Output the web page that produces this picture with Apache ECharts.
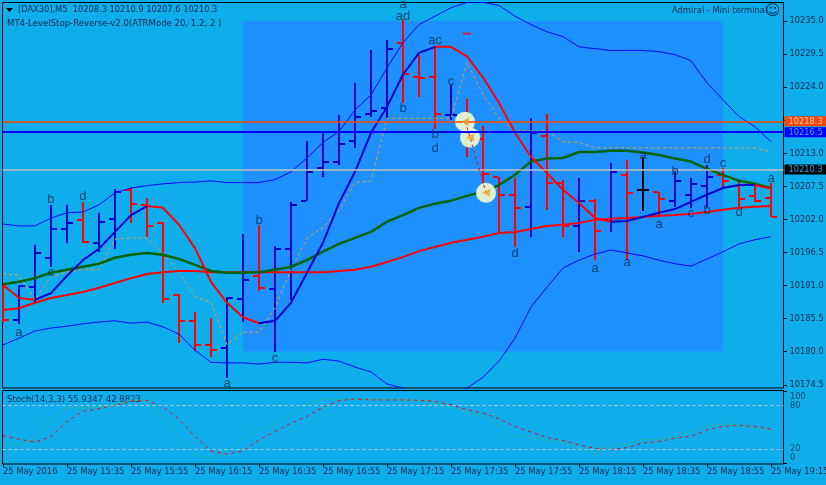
<!DOCTYPE html>
<html>
<head>
<meta charset="utf-8">
<title>DAX30 M5</title>
<style>
  html, body { margin: 0; padding: 0; background: #10aded; overflow: hidden; }
  #chart { width: 826px; height: 485px; }
</style>
<script src="https://cdn.jsdelivr.net/npm/echarts@6/dist/echarts.min.js"></script>
</head>
<body>
<div id="chart"></div>
<script>
const timeLabels = ['25 May 2016', '25 May 15:35', '25 May 15:55', '25 May 16:15', '25 May 16:35', '25 May 16:55', '25 May 17:15', '25 May 17:35', '25 May 17:55', '25 May 18:15', '25 May 18:35', '25 May 18:55', '25 May 19:15']
const timeTicks = [0, 4, 8, 12, 16, 20, 24, 28, 32, 36, 40, 44, 48]
const priceTicks = [10235, 10229.5, 10224, 10218.5, 10213, 10207.5, 10202, 10196.5, 10191, 10185.5, 10180, 10174.5]
const stochTicks = [0, 20, 80, 100]

const opens = [10190.8, 10185.2, 10190.8, 10195.6, 10200.4, 10201.9, 10198.1, 10202.1, 10206.9, 10204.3, 10201.3, 10189.4, 10185.1, 10181.1, 10180.6, 10188.8, 10192.6, 10190.4, 10197.1, 10205.1, 10210.6, 10211.6, 10215.1, 10219.6, 10220.6, 10231.3, 10225.6, 10225.6, 10219.3, 10219.1, 10215.3, 10209.1, 10206.1, 10204.1, 10215.9, 10208.1, 10200.8, 10205.1, 10201.8, 10209.4, 10206.8, 10206.6, 10205.1, 10206.1, 10207.6, 10209.4, 10207.6, 10205.9, 10205.6]
const highs = [10191.1, 10191.1, 10197.8, 10204.4, 10204.3, 10204.8, 10203.1, 10207.1, 10207.3, 10205.6, 10201.6, 10189.6, 10186.6, 10185.6, 10189.1, 10199.6, 10201.1, 10197.6, 10204.9, 10215.1, 10216.4, 10219.3, 10224.6, 10230.1, 10231.8, 10235.1, 10229.4, 10230.8, 10224.4, 10222.1, 10217.6, 10209.1, 10208.8, 10218.8, 10219.6, 10208.6, 10208.8, 10205.3, 10211.3, 10211.8, 10212.3, 10206.6, 10210.3, 10208.8, 10211.1, 10210.6, 10208.6, 10207.8, 10208.1]
const lows = [10184.8, 10184.6, 10188.1, 10194.1, 10198.1, 10198.1, 10196.6, 10197.1, 10201.4, 10199.1, 10188.1, 10181.4, 10180.1, 10179.1, 10175.6, 10184.9, 10190.1, 10179.9, 10188.6, 10205.1, 10209.1, 10211.1, 10213.9, 10219.1, 10218.8, 10221.4, 10222.4, 10217.1, 10218.6, 10212.3, 10205.3, 10199.6, 10197.4, 10199.1, 10203.6, 10199.1, 10196.6, 10195.3, 10199.9, 10195.3, 10203.4, 10202.3, 10204.1, 10203.9, 10204.1, 10207.4, 10204.1, 10204.9, 10202.3]
const closes = [10185.2, 10190.9, 10196.4, 10200.4, 10201.3, 10198.3, 10201.6, 10206.6, 10204.6, 10200.8, 10188.8, 10185.1, 10181.1, 10180.3, 10188.9, 10191.9, 10190.6, 10197.1, 10204.4, 10209.9, 10211.6, 10214.6, 10219.1, 10220.1, 10230.4, 10226.1, 10225.5, 10219.6, 10219.4, 10215.3, 10209.6, 10206.1, 10203.8, 10216.3, 10208.1, 10200.8, 10205.1, 10200.1, 10209.8, 10206.3, 10206.8, 10205.3, 10208.4, 10207.8, 10209.1, 10208.3, 10205.4, 10205.1, 10202.3]

const upperBand = [10201.2, 10200.9, 10200.9, 10202.2, 10203.1, 10203.2, 10204.4, 10206.4, 10207.2, 10207.6, 10207.9, 10208.1, 10208.2, 10208.4, 10208.1, 10208.1, 10208.1, 10208.6, 10209.9, 10212.2, 10214.8, 10216.6, 10220.2, 10222.7, 10227.2, 10231.4, 10234.4, 10235.8, 10237.2, 10238.1, 10238.1, 10237.6, 10235.8, 10234.4, 10233.2, 10232.4, 10230.7, 10230.4, 10230.1, 10230.1, 10230.1, 10229.9, 10229.4, 10228.4, 10224.7, 10221.9, 10219.1, 10217.4, 10214.9]
const lowerBand = [10181.1, 10182.2, 10183.4, 10183.9, 10184.2, 10184.6, 10184.9, 10185.1, 10184.7, 10184.9, 10184.1, 10182.9, 10180.2, 10178.2, 10178.1, 10178.1, 10177.9, 10178.2, 10178.2, 10178.1, 10178.7, 10178.4, 10177.4, 10176.6, 10174.6, 10173.9, 10172.7, 10172.2, 10172.7, 10173.9, 10175.7, 10178.4, 10182.2, 10187.4, 10190.7, 10193.9, 10195.2, 10196.2, 10196.9, 10196.4, 10195.9, 10195.2, 10194.6, 10194.2, 10195.4, 10196.6, 10197.9, 10198.6, 10199.1]
const trendLine = [10191.1, 10188.9, 10188.6, 10189.7, 10192.6, 10195.2, 10197.1, 10199.9, 10202.7, 10204.2, 10203.9, 10201.1, 10197.2, 10191.6, 10188.1, 10185.7, 10184.7, 10185.1, 10188.1, 10193.1, 10198.1, 10204.7, 10209.9, 10216.4, 10220.7, 10226.1, 10229.7, 10230.7, 10230.7, 10229.1, 10225.6, 10221.4, 10216.4, 10212.4, 10209.7, 10206.9, 10204.7, 10202.2, 10201.6, 10201.7, 10202.4, 10203.1, 10203.7, 10204.9, 10206.1, 10207.2, 10207.7, 10207.7, 10207.1]
const trendUpRanges = [[2, 9], [16, 27], [38, 47]]
const trendDownRanges = [[0, 2], [9, 16], [27, 38], [47, 48]]
const greenLine = [10191.2, 10191.6, 10192.2, 10193.1, 10193.6, 10194.1, 10194.6, 10195.6, 10196.1, 10196.4, 10196.1, 10195.4, 10194.4, 10193.4, 10193.1, 10193.1, 10193.2, 10193.6, 10194.1, 10195.2, 10196.6, 10197.9, 10198.9, 10199.9, 10201.6, 10202.7, 10203.9, 10204.6, 10205.1, 10205.9, 10206.6, 10207.7, 10209.4, 10211.6, 10212.1, 10212.2, 10213.2, 10213.2, 10213.4, 10213.4, 10213.1, 10212.7, 10212.1, 10211.6, 10210.4, 10209.4, 10208.4, 10207.9, 10207.2]
const redLine = [10186.9, 10187.2, 10188.1, 10188.9, 10189.4, 10189.9, 10190.6, 10191.4, 10192.2, 10192.9, 10193.2, 10193.4, 10193.4, 10193.2, 10193.2, 10193.2, 10193.2, 10193.2, 10193.2, 10193.2, 10193.2, 10193.4, 10193.6, 10194.1, 10194.9, 10195.7, 10196.7, 10197.4, 10198.1, 10198.6, 10199.1, 10199.7, 10199.9, 10200.4, 10200.9, 10201.1, 10201.4, 10201.9, 10202.1, 10202.2, 10202.4, 10202.6, 10202.7, 10202.9, 10203.2, 10203.6, 10203.9, 10204.1, 10204.2]
const stopLine = [10192.9, 10192.7, 10188.6, 10192.4, 10193.2, 10193.6, 10193.7, 10198.7, 10198.9, 10198.9, 10196.4, 10193.2, 10189.1, 10188.2, 10181.1, 10183.2, 10183.2, 10187.2, 10193.6, 10198.9, 10200.6, 10203.6, 10208.1, 10208.4, 10218.8, 10218.8, 10218.8, 10218.8, 10218.8, 10228.1, 10222.7, 10218.9, 10216.7, 10216.7, 10216.7, 10214.9, 10214.8, 10213.9, 10213.9, 10213.9, 10213.9, 10213.9, 10213.9, 10213.9, 10213.9, 10213.9, 10213.9, 10213.9, 10213.2]

const stochMain = [27.9, 25.5, 33.4, 62.7, 76.7, 76.7, 78.1, 81.3, 87.4, 88.3, 65.1, 37.2, 11.6, 6, 18.6, 34.8, 47.4, 54.4, 67.4, 81.3, 89.3, 88.3, 89.7, 88.8, 88.3, 88.3, 87.4, 83.7, 77.6, 71.1, 63.7, 53.4, 38.1, 35.8, 31.1, 29.3, 20.9, 13.9, 24.1, 26.5, 33.4, 32.5, 37.2, 45, 52.5, 54.4, 52.5, 48.8, 45]
const stochSignal = [38.5, 33.4, 29.3, 37.2, 58.1, 72, 75.8, 80.4, 86, 87.4, 78.1, 61.3, 37.2, 17.2, 12.5, 17.2, 32.5, 44.1, 55.8, 65.1, 78.1, 86.9, 89.3, 87.9, 87.9, 87.9, 87.4, 86, 81.3, 74.4, 69.7, 61.8, 51.1, 43.2, 35.8, 31.6, 25.5, 20.9, 18.6, 21.8, 28.3, 30.2, 34.8, 37.2, 46.5, 51.1, 53, 51.1, 47.4]

const letterText = ['a', 'b', 'd', 'c', 'a', 'b', 'c', 'a', 'ad', 'b', 'ac', 'c', 'b', 'd', 'd', 'a', 'a', 'a', 'a', 'b', 'c', 'd', 'b', 'c', 'd', 'a']
const letterBar = [1, 3, 5, 3, 14, 16, 17, 25, 25, 25, 27, 28, 27, 27, 32, 37, 39, 40, 41, 42, 43, 44, 44, 45, 46, 48]
const letterPrice = [10183.25, 10205.25, 10205.75, 10193.1, 10174.75, 10201.75, 10178.9, 10237.75, 10235.75, 10220.4, 10231.75, 10224.9, 10216.1, 10213.75, 10196.4, 10193.9, 10194.75, 10212.6, 10201.1, 10209.9, 10202.9, 10211.9, 10203.4, 10211.25, 10203.1, 10208.75]

const signalBar = [28.875, 29.19, 30.19]
const signalPrice = [10218.25, 10215.6, 10206.4]
const dashBar = 29
const dashPrice = 10232.9

const askLine = 10218.3
const bidLine = 10216.5
const lastLine = 10210.3

const BG = '#10aded'
const FONT = '"DejaVu Sans Condensed", "DejaVu Sans", sans-serif'
const TEXT = '#062c4c'
const BLUE = '#0000cd'
const RED = '#ff0000'
const X_MIN = -0.03
const X_MAX = 48.78

const byRanges = (values, ranges) => values.map((v, i) => ranges.some(r => i >= r[0] && i <= r[1]) ? [i, v] : [i, null])
const indexed = values => values.map((v, i) => [i, v])

const renderBar = (params, api) => {
  const i = api.value(0)
  const o = api.coord([i, api.value(1)])
  const h = api.coord([i, api.value(2)])
  const l = api.coord([i, api.value(3)])
  const c = api.coord([i, api.value(4)])
  const up = api.value(4) > api.value(1)
  const flat = api.value(4) === api.value(1)
  const fill = flat ? '#000000' : (up ? BLUE : RED)
  const x = Math.round(o[0])
  const rect = (rx, ry, w, hh) => ({ type: 'rect', shape: { x: rx, y: ry, width: w, height: hh }, style: { fill } })
  const leftEdge = Math.max(x - 6, 3)
  return {
    type: 'group',
    children: [
      rect(x - 1, Math.round(h[1]), 2, Math.round(l[1]) - Math.round(h[1])),
      rect(leftEdge, Math.round(o[1]) - 1, x - 1 - leftEdge, 2),
      rect(x + 1, Math.round(c[1]) - 1, 5, 2)
    ]
  }
}

// axisTick.customValues lands on the wrong side here, so the ticks are small custom marks
const renderRightTick = (params, api) => {
  const p = api.coord([api.value(0), api.value(1)])
  return { type: 'rect', shape: { x: Math.round(p[0]), y: Math.round(p[1]), width: 3, height: 1 }, style: { fill: '#000' } }
}
const renderBottomTick = (params, api) => {
  const p = api.coord([api.value(0), api.value(1)])
  return { type: 'rect', shape: { x: Math.round(p[0]), y: Math.round(p[1]), width: 1, height: 3 }, style: { fill: '#000' } }
}

const thinLine = (data, color, width, extra) => Object.assign({
  type: 'line',
  data,
  symbol: 'none',
  silent: true,
  clip: true,
  connectNulls: false,
  lineStyle: { color, width }
}, extra)

const priceMark = (value, color, width, bg, textColor) => ({
  yAxis: value,
  lineStyle: { color, width, type: 'solid' },
  label: {
    show: true,
    position: 'end',
    distance: 1,
    formatter: value.toFixed(1),
    color: textColor,
    backgroundColor: bg,
    fontFamily: FONT,
    fontSize: 9.2,
    padding: [1, 4, 0, 4],
    width: 34,
    height: 9,
    lineHeight: 9
  }
})

const chart = echarts.init(document.getElementById('chart'), null, { renderer: 'canvas' })

chart.setOption({
  animation: false,
  backgroundColor: BG,
  grid: [
    { left: 2.5, top: 2.5, width: 781, height: 385.5, outerBoundsMode: 'none', show: true, borderColor: '#000', borderWidth: 1, backgroundColor: 'transparent' },
    { left: 2.5, top: 390.5, width: 781, height: 73.5, outerBoundsMode: 'none', show: true, borderColor: '#000', borderWidth: 1, backgroundColor: 'transparent' }
  ],
  xAxis: [
    { type: 'value', gridIndex: 0, min: X_MIN, max: X_MAX, axisLine: { show: false }, axisTick: { show: false }, axisLabel: { show: false }, splitLine: { show: false } },
    {
      type: 'value',
      gridIndex: 1,
      min: X_MIN,
      max: X_MAX,
      axisLine: { show: false },
      axisTick: { show: false },
      splitLine: { show: false },
      axisLabel: {
        customValues: timeTicks,
        formatter: v => timeLabels[timeTicks.indexOf(v)],
        align: 'left',
        margin: 3,
        color: TEXT,
        fontFamily: FONT,
        fontSize: 9.3,
        hideOverlap: false,
        showMinLabel: true,
        showMaxLabel: true
      }
    }
  ],
  yAxis: [
    {
      type: 'value',
      gridIndex: 0,
      position: 'right',
      min: 10173.92,
      max: 10238.08,
      axisLine: { show: false },
      axisTick: { show: false },
      splitLine: { show: false },
      axisLabel: {
        customValues: priceTicks,
        formatter: v => v.toFixed(1),
        margin: 6,
        color: TEXT,
        fontFamily: FONT,
        fontSize: 9.2
      }
    },
    {
      type: 'value',
      gridIndex: 1,
      position: 'right',
      min: -1,
      max: 101,
      axisLine: { show: false },
      axisTick: { show: false },
      splitLine: { show: false },
      axisLabel: { show: false }
    }
  ],
  series: [
    thinLine(indexed(upperBand), '#0000ff', 1, {
      markArea: {
        silent: true,
        itemStyle: { color: '#1e90ff', opacity: 1 },
        data: [[{ xAxis: 15, yAxis: 10235 }, { xAxis: 45, yAxis: 10180 }]]
      }
    }),
    thinLine(indexed(lowerBand), '#0000ff', 1),
    thinLine(indexed(stopLine), '#f0a020', 1, { lineStyle: { color: '#f0a020', width: 1, type: [3, 3] } }),
    {
      type: 'custom',
      silent: true,
      clip: false,
      renderItem: renderBar,
      encode: { x: 0, y: [1, 2, 3, 4] },
      data: opens.map((o, i) => [i, o, highs[i], lows[i], closes[i]])
    },
    thinLine(indexed(redLine), RED, 2),
    thinLine(indexed(greenLine), '#006400', 2.5),
    thinLine(byRanges(trendLine, trendDownRanges), RED, 2),
    thinLine(byRanges(trendLine, trendUpRanges), BLUE, 2),
    {
      type: 'line',
      silent: true,
      data: [],
      symbol: 'none',
      markLine: {
        silent: true,
        symbol: 'none',
        data: [
          priceMark(askLine, '#ff4500', 1.5, '#ff4500', '#d0d0d0'),
          priceMark(bidLine, '#0000ff', 2, '#0000ff', '#3aa8ff'),
          priceMark(lastLine, '#c0c0c0', 1.5, '#000000', '#10aded')
        ]
      }
    },
    {
      type: 'scatter',
      silent: true,
      symbol: 'circle',
      symbolSize: 20,
      itemStyle: { color: '#e6f8d0', opacity: 0.95 },
      data: signalBar.map((x, i) => [x, signalPrice[i]]),
      z: 4
    },
    thinLine(signalBar.map((x, i) => [x, signalPrice[i]]), RED, 1, { lineStyle: { color: RED, width: 1, type: [3, 3] }, z: 5 }),
    {
      type: 'scatter',
      silent: true,
      symbol: 'triangle',
      symbolSize: 8,
      symbolRotate: 90,
      itemStyle: { color: '#e8a030' },
      data: signalBar.map((x, i) => [x, signalPrice[i]]),
      z: 6
    },
    {
      type: 'scatter',
      silent: true,
      symbol: 'rect',
      symbolSize: [8, 2],
      itemStyle: { color: RED },
      data: [[dashBar, dashPrice]]
    },
    {
      type: 'scatter',
      silent: true,
      symbol: 'circle',
      symbolSize: 1,
      itemStyle: { color: 'transparent' },
      data: letterBar.map((x, i) => [x, letterPrice[i], letterText[i]]),
      z: 7,
      label: {
        show: true,
        position: 'inside',
        formatter: p => p.value[2],
        color: TEXT,
        fontFamily: '"Liberation Sans", sans-serif',
        fontSize: 13
      }
    },
    {
      type: 'custom',
      silent: true,
      clip: false,
      renderItem: renderRightTick,
      encode: { x: 0, y: 1 },
      data: priceTicks.map(v => [X_MAX, v])
    },
    thinLine(indexed(stochMain), '#20b2aa', 1, { xAxisIndex: 1, yAxisIndex: 1 }),
    thinLine(indexed(stochSignal), RED, 1, {
      xAxisIndex: 1,
      yAxisIndex: 1,
      lineStyle: { color: RED, width: 1, type: [3, 4] },
      markLine: {
        silent: true,
        symbol: 'none',
        label: { show: false },
        lineStyle: { color: '#c8c8c8', width: 1, type: [3, 3] },
        data: [{ yAxis: 80 }, { yAxis: 20 }]
      }
    }),
    {
      type: 'custom',
      silent: true,
      clip: false,
      xAxisIndex: 1,
      yAxisIndex: 1,
      renderItem: renderBottomTick,
      encode: { x: 0, y: 1 },
      data: timeTicks.map(v => [v, -1])
    },
    {
      type: 'custom',
      silent: true,
      clip: false,
      xAxisIndex: 1,
      yAxisIndex: 1,
      renderItem: renderRightTick,
      encode: { x: 0, y: 1 },
      data: [[X_MAX, 0], [X_MAX, 100]]
    },
    {
      type: 'scatter',
      silent: true,
      clip: false,
      xAxisIndex: 1,
      yAxisIndex: 1,
      symbol: 'circle',
      symbolSize: 1,
      itemStyle: { color: 'transparent' },
      data: stochTicks.map(v => ({
        value: [X_MAX, v],
        label: { offset: [0, v === 100 ? 5 : (v === 0 ? -6 : 0)] }
      })),
      label: {
        show: true,
        position: 'right',
        distance: 6,
        formatter: p => String(p.value[1]),
        color: TEXT,
        fontFamily: FONT,
        fontSize: 9.2
      }
    }
  ],
  graphic: [
    { type: 'polygon', shape: { points: [[6, 8], [13, 8], [9.5, 12]] }, style: { fill: '#000' } },
    { type: 'text', left: 18, top: 5, style: { text: '[DAX30],M5  10208.3 10210.9 10207.6 10210.3', fill: TEXT, font: '9.2px ' + FONT } },
    { type: 'text', left: 7, top: 19, style: { text: 'MT4-LevelStop-Reverse-v2.0(ATRMode 20, 1.2, 2 )', fill: TEXT, font: '9.5px ' + FONT } },
    { type: 'text', left: 672, top: 6, style: { text: 'Admiral - Mini terminal', fill: TEXT, font: '9.3px ' + FONT } },
    { type: 'text', left: 765, top: 4, style: { text: '\u263A', fill: TEXT, font: '15px "DejaVu Sans"' } },
    { type: 'text', left: 7, top: 395, style: { text: 'Stoch(14,3,3) 55.9347 42.8823', fill: TEXT, font: '9.5px ' + FONT } }
  ]
})
</script>
</body>
</html>
